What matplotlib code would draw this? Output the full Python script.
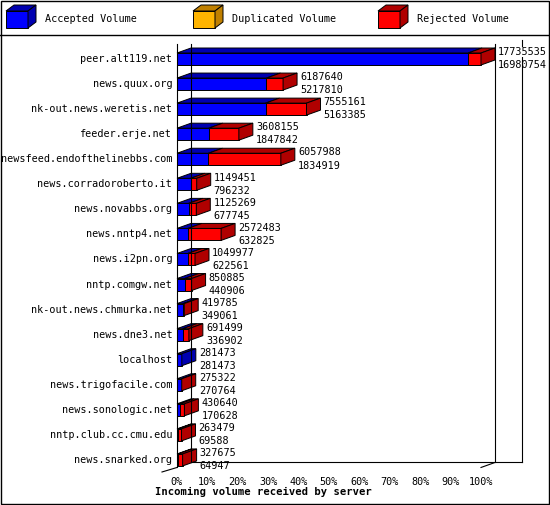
import matplotlib
matplotlib.use("Agg")
import matplotlib.pyplot as plt
from matplotlib.patches import Polygon, Rectangle

servers = ["peer.alt119.net","news.quux.org","nk-out.news.weretis.net","feeder.erje.net",
           "newsfeed.endofthelinebbs.com","news.corradoroberto.it","news.novabbs.org",
           "news.nntp4.net","news.i2pn.org","nntp.comgw.net","nk-out.news.chmurka.net",
           "news.dne3.net","localhost","news.trigofacile.com","news.sonologic.net",
           "nntp.club.cc.cmu.edu","news.snarked.org"]
total = [17735535,6187640,7555161,3608155,6057988,1149451,1125269,2572483,1049977,
         850885,419785,691499,281473,275322,430640,263479,327675]
accepted = [16980754,5217810,5163385,1847842,1834919,796232,677745,632825,622561,
            440906,349061,336902,281473,270764,170628,69588,64947]
ticks = [0,10,20,30,40,50,60,70,80,90,100]

W, H = 550, 505
fig = plt.figure(figsize=(W/100, H/100), dpi=100)
ax = fig.add_axes([0, 0, 1, 1])
# pixel mapping: 0% -> 177px, 100% -> 481px; row0 -> 59px, spacing 25.06px
sx, x0p = 3.04, 177
sy, y0p = 25.06, 59
ax.set_xlim((0 - x0p)/sx, (W - x0p)/sx)
ax.set_ylim((H - y0p)/sy, (0 - y0p)/sy)
ax.axis("off")

mono = "DejaVu Sans Mono"
dx, dy, h = 14/sx, 5/sy, 6/sy
mx = max(total)
BLUE, BLUE_D = "#0000ff", "#0000b0"
RED, RED_D = "#ff0000", "#b00000"
kw = dict(ec="black", lw=0.7)

n = len(servers)
bottom = n - 1 + 0.3
# frame lines
ax.plot([0, 0], [-0.6, bottom + 0.0], color="black", lw=0.8)
ax.plot([dx, dx], [-0.6, bottom - dy], color="black", lw=0.8)
ax.plot([100+dx, 100+dx], [-0.6, bottom - dy], color="black", lw=0.8)
ax.plot([dx, (522-x0p)/sx], [bottom - dy, bottom - dy], color="black", lw=0.8)
ax.plot([(522-x0p)/sx]*2, [-0.75, bottom - dy], color="black", lw=0.8)
ax.plot([(162-x0p)/sx, 0], [bottom + 0.18, bottom], color="black", lw=0.8)
ax.plot([100, 100+dx], [bottom, bottom - dy], color="black", lw=0.8)

for i, (s, t, a) in enumerate(zip(servers, total, accepted)):
    L = t / mx * 100
    A = a / mx * 100
    yt, yb = i - h, i + h
    segs = [(0, A, BLUE, BLUE_D), (A, L, RED, RED_D)]
    for x1, x2, c, cd in segs:
        if x2 - x1 <= 0:
            continue
        ax.add_patch(Rectangle((x1, yt), x2 - x1, 2*h, fc=c, **kw))
        ax.add_patch(Polygon([(x1, yt), (x2, yt), (x2+dx, yt-dy), (x1+dx, yt-dy)], fc=cd, **kw))
    cside = RED_D if L > A else BLUE_D
    ax.add_patch(Polygon([(L, yt), (L+dx, yt-dy), (L+dx, yb-dy), (L, yb)], fc=cside, **kw))
    ax.text(-1.6, i, s, ha="right", va="center", family=mono, fontsize=7.3)
    ax.text(L + dx + 1, i - 0.27, f"{t}", ha="left", va="center", family=mono, fontsize=7.3,
            bbox=dict(fc="white", ec="none", pad=0))
    ax.text(L + dx + 1, i + 0.25, f"{a}", ha="left", va="center", family=mono, fontsize=7.3)

for tk in ticks:
    ax.text(tk, (482 - y0p)/sy, f"{tk}%", ha="center", va="center", family=mono, fontsize=7.3)
ax.text((155 - x0p)/sx, (492 - y0p)/sy, "Incoming volume received by server", ha="left",
        va="center", family=mono, fontsize=7.6, fontweight="bold")

# legend and borders in pixel coords
lx = fig.add_axes([0, 0, 1, 1], facecolor="none")
lx.set_xlim(0, W); lx.set_ylim(H, 0); lx.axis("off")
lx.add_patch(Rectangle((0.5, 0.5), W-1.5, H-1.5, fill=False, ec="black", lw=1))
lx.plot([0, W], [35, 35], color="black", lw=1)
leg = [(6, "#0000ff", "#0000b0", "Accepted Volume"),
       (193, "#ffb400", "#c08000", "Duplicated Volume"),
       (378, "#ff0000", "#b00000", "Rejected Volume")]
for x, c, cd, lab in leg:
    lx.add_patch(Rectangle((x, 11), 22, 17, fc=c, **kw))
    lx.add_patch(Polygon([(x, 11), (x+22, 11), (x+30, 5), (x+8, 5)], fc=cd, **kw))
    lx.add_patch(Polygon([(x+22, 11), (x+30, 5), (x+30, 22), (x+22, 28)], fc=cd, **kw))
    lx.text(x + 39, 19, lab, ha="left", va="center", family=mono, fontsize=7.3)

fig.savefig("out.png", dpi=100)
